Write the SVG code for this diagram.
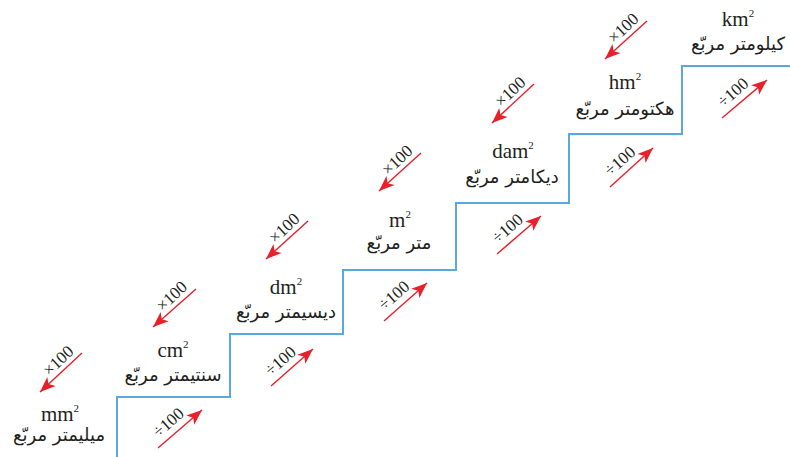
<svg xmlns="http://www.w3.org/2000/svg" width="790" height="457" viewBox="0 0 790 457">
<style>
.u{font-family:"Liberation Serif","DejaVu Serif",serif;font-size:21px;fill:#231f20;text-anchor:middle}
.sup{font-size:11px}
.ar{font-family:"DejaVu Sans","Noto Sans",sans-serif;font-size:18px;fill:#231f20;text-anchor:middle}
.lb{font-family:"Liberation Serif","DejaVu Serif",serif;font-size:17px;fill:#231f20;text-anchor:middle}
.arr{stroke:#e8202a;stroke-width:1.4;fill:none;marker-end:url(#ah)}
.stair{stroke:#5aa8de;stroke-width:2;fill:none}
</style>
<defs>
<marker id="ah" markerUnits="userSpaceOnUse" markerWidth="20" markerHeight="20" viewBox="-16 -8 18 16" refX="0" refY="0" orient="auto">
<path d="M0,0 L-14,-5.5 L-10.5,0 L-14,5.5 Z" fill="#e8202a"/>
</marker>
</defs>
<rect width="790" height="457" fill="#ffffff"/>
<g id="stairs">
<path class="stair" d="M117,457 V397 H230 V334 H343 V270 H456 V203 H569 V134 H682 V66 H790"/>
</g>
<g id="node-mm"><text class="u" x="60" y="421">mm<tspan class="sup" dy="-9">2</tspan></text><text class="ar" x="59" y="441">ميليمتر مربّع</text></g>
<g id="node-cm"><text class="u" x="173" y="357">cm<tspan class="sup" dy="-9">2</tspan></text><text class="ar" x="173" y="381">سنتيمتر مربّع</text></g>
<g id="node-dm"><text class="u" x="286" y="294">dm<tspan class="sup" dy="-9">2</tspan></text><text class="ar" x="286" y="318">ديسيمتر مربّع</text></g>
<g id="node-m"><text class="u" x="400" y="227">m<tspan class="sup" dy="-9">2</tspan></text><text class="ar" x="399" y="249">متر مربّع</text></g>
<g id="node-dam"><text class="u" x="513" y="158">dam<tspan class="sup" dy="-9">2</tspan></text><text class="ar" x="512" y="183">ديكامتر مربّع</text></g>
<g id="node-hm"><text class="u" x="625" y="89">hm<tspan class="sup" dy="-9">2</tspan></text><text class="ar" x="625" y="115">هكتومتر مربّع</text></g>
<g id="node-km"><text class="u" x="738" y="26">km<tspan class="sup" dy="-9">2</tspan></text><text class="ar" x="738" y="50">كيلومتر مربّع</text></g>
<g id="connectors">
<line class="arr" x1="82" y1="353" x2="40" y2="392"/>
<line class="arr" x1="196" y1="289" x2="153" y2="327"/>
<line class="arr" x1="308" y1="221" x2="266" y2="259"/>
<line class="arr" x1="421" y1="153" x2="379" y2="191"/>
<line class="arr" x1="534" y1="84" x2="492" y2="123"/>
<line class="arr" x1="647" y1="21" x2="605" y2="59"/>
<text class="lb" transform="translate(61,372.5) rotate(-43)" x="6" y="-5">×100</text>
<text class="lb" transform="translate(174.5,308) rotate(-43)" x="6" y="-5">×100</text>
<text class="lb" transform="translate(287,240) rotate(-43)" x="6" y="-5">×100</text>
<text class="lb" transform="translate(400,172) rotate(-43)" x="6" y="-5">×100</text>
<text class="lb" transform="translate(513,103.5) rotate(-43)" x="6" y="-5">×100</text>
<text class="lb" transform="translate(626,40) rotate(-43)" x="6" y="-5">×100</text>
<line class="arr" x1="158" y1="448" x2="202" y2="410"/>
<line class="arr" x1="271" y1="386" x2="313" y2="349"/>
<line class="arr" x1="384" y1="321" x2="427" y2="283"/>
<line class="arr" x1="497" y1="254" x2="541" y2="216"/>
<line class="arr" x1="610" y1="187" x2="653" y2="148"/>
<line class="arr" x1="722" y1="118" x2="767" y2="80"/>
<text class="lb" transform="translate(180,429) rotate(-41)" x="-4.5" y="-7">÷100</text>
<text class="lb" transform="translate(292,367.5) rotate(-41)" x="-4.5" y="-7">÷100</text>
<text class="lb" transform="translate(405.5,302) rotate(-41)" x="-4.5" y="-7">÷100</text>
<text class="lb" transform="translate(519,235) rotate(-41)" x="-4.5" y="-7">÷100</text>
<text class="lb" transform="translate(631.5,167.5) rotate(-41)" x="-4.5" y="-7">÷100</text>
<text class="lb" transform="translate(744.5,99) rotate(-41)" x="-4.5" y="-7">÷100</text>
</g>
</svg>
